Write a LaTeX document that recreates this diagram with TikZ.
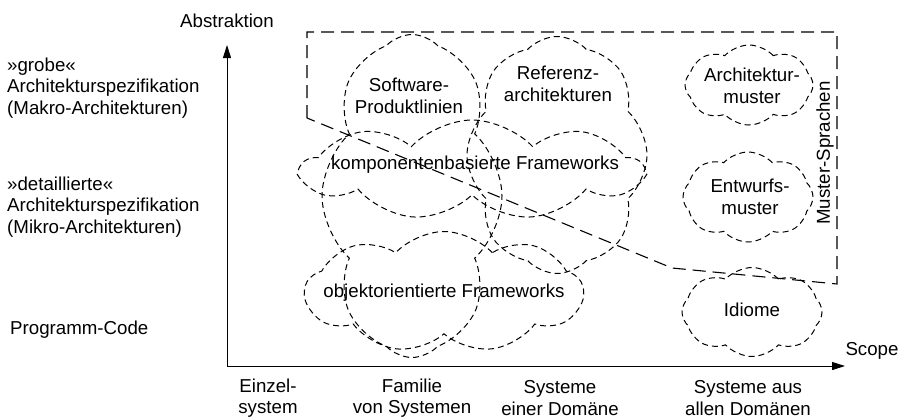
\documentclass[tikz,border=0pt]{standalone}
\usepackage{fontspec}
\setmainfont{Liberation Sans}
\usetikzlibrary{shapes.symbols,arrows.meta}
\begin{document}
\begin{tikzpicture}[x=1pt,y=-1pt,
  lbl/.style={font=\fontsize{18.7}{21.5}\selectfont, inner sep=0pt, align=center},
  lblL/.style={lbl, align=left, anchor=west},
  cl/.style={cloud, draw, line width=1pt, dash pattern=on 6pt off 4pt, inner sep=0pt, cloud puffs=#1, cloud puff arc=95},
  cl/.default=9,
  regdash/.style={line width=1.1pt, dash pattern=on 13pt off 7pt},
  axis/.style={line width=1pt, -{Triangle[length=13pt,width=8pt]}}
]
\useasboundingbox (0,0) rectangle (899,418);

% region (Muster-Sprachen)
\coordinate (r0) at (307,32);
\coordinate (r1) at (307,118);
\coordinate (r2) at (837,32);
\coordinate (r3) at (837,284);
\coordinate (r4) at (672,268);
\draw[regdash] (r1) -- (r0) -- (r2) -- (r3) -- (r4) -- cycle;

% clouds
\node[cl=8, minimum width=180pt, minimum height=323pt] (sp) at (412,196) {};
\node[cl=8, minimum width=180pt, minimum height=237pt] (ref) at (557,155) {};
\node[cl=9, minimum width=341pt, minimum height=100pt] (komp) at (472,170) {};
\node[cl=9, minimum width=278pt, minimum height=121pt] (obj) at (444,292) {};
\node[cl=8, minimum width=128pt, minimum height=80pt] (arch) at (749,85) {};
\node[cl=8, minimum width=130pt, minimum height=90pt] (entw) at (748,197) {};
\node[cl=8, minimum width=140pt, minimum height=89pt] (idi) at (752,312) {};

% cloud texts
\node[lbl] (tsp) at (409,96) {Software-\\Produktlinien};
\node[lbl] (tref) at (558,84) {Referenz-\\architekturen};
\node[lbl] (tkomp) at (475,165) {komponentenbasierte Frameworks};
\node[lbl] (tobj) at (444,293) {objektorientierte Frameworks};
\node[lbl] (tarch) at (752,86) {Architektur-\\muster};
\node[lbl] (tentw) at (750,197) {Entwurfs-\\muster};
\node[lbl] (tidi) at (752,310) {Idiome};
\node[lbl, rotate=90] (tms) at (825,153) {Muster-Sprachen};

% axes
\coordinate (O) at (227,366);
\coordinate (ytip) at (227,45);
\coordinate (xtip) at (845,366);
\draw[axis] (O) -- (ytip);
\draw[axis] (O) -- (xtip);
\node[lbl] (abs) at (227,21) {Abstraktion};
\node[lbl] (scope) at (872,351) {Scope};

% left labels
\node[lblL] (grob) at (7,88) {»grobe«\\Architekturspezifikation\\(Makro-Architekturen)};
\node[lblL] (det) at (7,207) {»detaillierte«\\Architekturspezifikation\\(Mikro-Architekturen)};
\node[lblL] (code) at (10,330) {Programm-Code};

% bottom labels
\node[lbl] (b1) at (268,398) {Einzel-\\system};
\node[lbl] (b2) at (412,398) {Familie\\von Systemen};
\node[lbl] (b3) at (560,398) {Systeme\\einer Domäne};
\node[lbl] (b4) at (748,398) {Systeme aus\\allen Domänen};
\end{tikzpicture}
\end{document}
